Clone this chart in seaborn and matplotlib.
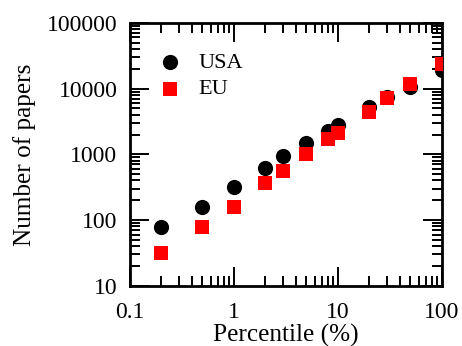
import matplotlib
matplotlib.use("Agg")
import matplotlib.pyplot as plt
import seaborn as sns
import pandas as pd
from matplotlib.ticker import FixedLocator, FixedFormatter, LogLocator, NullFormatter

percentile = [0.2, 0.5, 1, 2, 3, 5, 8, 10, 20, 30, 50, 100]
usa = [78, 160, 319, 614, 946, 1478, 2270, 2770, 5210, 7400, 10700, 19270]
eu = [32, 79, 158, 367, 565, 1014, 1735, 2140, 4470, 7130, 11670, 23500]
xticks = [0.1, 1, 10, 100]
xticklabels = ["0.1", "1", "10", "100"]
yticks = [10, 100, 1000, 10000, 100000]
yticklabels = ["10", "100", "1000", "10000", "100000"]

sns.set_theme(style="white")
plt.rcParams['font.family'] = ['Liberation Serif', 'DejaVu Serif']
plt.rcParams['text.color'] = 'black'
plt.rcParams['axes.labelcolor'] = 'black'

df_usa = pd.DataFrame({"Percentile": percentile, "Papers": usa, "Region": "USA"})
df_eu = pd.DataFrame({"Percentile": percentile, "Papers": eu, "Region": "EU"})

fig = plt.figure(figsize=(4.62, 3.46), dpi=100)
ax = fig.add_axes([0.281, 0.174, 0.675, 0.760])

sns.scatterplot(data=df_usa, x="Percentile", y="Papers", ax=ax, color="black",
                marker="o", s=120, linewidth=0, label="USA", zorder=3)
sns.scatterplot(data=df_eu, x="Percentile", y="Papers", ax=ax, color="#ff0000",
                marker="s", s=100, linewidth=0, label="EU", zorder=4)

ax.set_xscale("log")
ax.set_yscale("log")
ax.set_xlim(0.1, 100)
ax.set_ylim(10, 100000)

ax.xaxis.set_major_locator(FixedLocator(xticks))
ax.xaxis.set_major_formatter(FixedFormatter(xticklabels))
ax.yaxis.set_major_locator(FixedLocator(yticks))
ax.yaxis.set_major_formatter(FixedFormatter(yticklabels))
ax.xaxis.set_minor_locator(LogLocator(base=10, subs=range(2, 10)))
ax.yaxis.set_minor_locator(LogLocator(base=10, subs=range(2, 10)))
ax.xaxis.set_minor_formatter(NullFormatter())
ax.yaxis.set_minor_formatter(NullFormatter())

ax.tick_params(which="both", direction="in", top=True, right=True,
               bottom=True, left=True, colors="black", labelsize=17)
ax.tick_params(which="major", length=14, width=1.4)
ax.tick_params(which="minor", length=7, width=1.4)
ax.tick_params(axis="x", which="major", pad=12)
ax.tick_params(axis="y", which="major", pad=9)
for sp in ax.spines.values():
    sp.set_color("black")
    sp.set_linewidth(2)

ax.set_xlabel("Percentile (%)", fontsize=18.2, color="black", labelpad=0)
ax.set_ylabel("Number of papers", fontsize=18.2, color="black", labelpad=8)

leg = ax.legend(loc="upper left", bbox_to_anchor=(0.03, 0.92), frameon=False,
                fontsize=16, handletextpad=0.25, labelspacing=0.25, borderaxespad=0)
for t in leg.get_texts():
    t.set_color("black")

fig.savefig("out.png", dpi=100)
